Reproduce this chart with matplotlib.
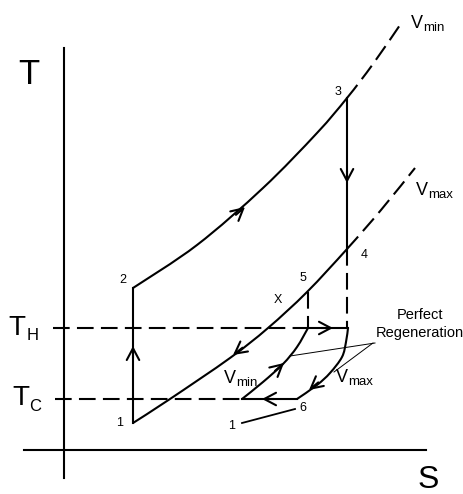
import matplotlib
matplotlib.use("Agg")
import matplotlib.pyplot as plt
from matplotlib.path import Path
from matplotlib.patches import PathPatch

plt.rcParams['font.family'] = ['Liberation Sans', 'DejaVu Sans']

# diagram frame (s to the right, t downwards as on the sheet)
axis_s = [64, 64]
axis_t = [48, 478]
base_s = [24, 426]
base_t = [450, 450]

# isochore V_min through 2 and 3; solid up to index 4, dashed after
vmin_s = [133, 197, 263, 317, 347, 373, 400]
vmin_t = [288, 245, 188, 133, 98, 64, 25]
vmin_cut = 4

# isochore V_max through 1, 5 and 4; solid up to index 5, dashed after
vmax_s = [133, 170, 230, 268, 307, 347, 381, 415]
vmax_t = [423, 399, 358, 328, 292, 249, 210, 168]
vmax_cut = 5

# compression 1-2 and expansion 3-4
comp_s = [133, 133]
comp_t = [423, 288]
exp_s = [347, 347]
exp_t = [98, 249]

# regenerator isochores
reg_min_s = [242, 263, 283, 297, 308]
reg_min_t = [399, 382, 364, 347, 328]
reg_max_s = [348, 346, 342, 330, 317, 297]
reg_max_t = [328, 342, 357, 373, 385, 399]

# reservoir temperatures
t_hot = 328
t_cold = 399
hot_dash = [53, 308]
hot_solid = [308, 348]
cold_dash = [55, 242]
cold_solid = [242, 297]

# drop lines from 4 and 5
drop4_s = [347, 347]
drop4_t = [249, 328]
drop5_s = [308, 308]
drop5_t = [292, 328]

# leader lines
lead16_s = [242, 295]
lead16_t = [423, 409]
lead_a_s = [375, 290]
lead_a_t = [343, 356]
lead_b_s = [373, 334]
lead_b_t = [343, 372]

# direction arrows: tip and heading
arrow_tip = [(245, 207), (347, 183), (133, 346), (233, 355), (333, 328),
             (309, 390), (262, 399), (284, 363)]
arrow_dir = [(43, -37), (0, 1), (0, -1), (-38, 29), (1, 0),
             (-33, 27), (-1, 0), (24, -21)]

# point labels
num_text = ['1', '2', '3', '4', '5', '6', '1', 'X']
num_s = [120, 123, 338, 364, 303, 303, 232, 278]
num_t = [423, 280, 92, 255, 278, 408, 426, 300]

fig = plt.figure(figsize=(4.64, 4.94), dpi=100)
ax = fig.add_axes([0, 0, 1, 1])
ax.set_xlim(0, 464)
ax.set_ylim(494, 0)
ax.axis('off')

lw = 1.5
dash = (0, (8, 3.5))
k = 'black'


def smooth(xs, ys, i0=0, i1=None, **kw):
    # bezier through the given points, drawn from point i0 to point i1
    pts = list(zip(xs, ys))
    n = len(pts)
    if i1 is None:
        i1 = n - 1
    verts = [pts[i0]]
    codes = [Path.MOVETO]
    for i in range(i0, i1):
        p0 = pts[max(i - 1, 0)]
        p1 = pts[i]
        p2 = pts[i + 1]
        p3 = pts[min(i + 2, n - 1)]
        c1 = (p1[0] + (p2[0] - p0[0]) / 6, p1[1] + (p2[1] - p0[1]) / 6)
        c2 = (p2[0] - (p3[0] - p1[0]) / 6, p2[1] - (p3[1] - p1[1]) / 6)
        verts += [c1, c2, p2]
        codes += [Path.CURVE4] * 3
    ax.add_patch(PathPatch(Path(verts, codes), fill=False, edgecolor=k,
                           lw=lw, capstyle='butt', **kw))


ax.plot(axis_s, axis_t, color=k, lw=lw)
ax.plot(base_s, base_t, color=k, lw=lw)

smooth(vmin_s, vmin_t, 0, vmin_cut)
smooth(vmin_s, vmin_t, vmin_cut, None, linestyle=dash)
smooth(vmax_s, vmax_t, 0, vmax_cut)
smooth(vmax_s, vmax_t, vmax_cut, None, linestyle=dash)
ax.plot(comp_s, comp_t, color=k, lw=lw)
ax.plot(exp_s, exp_t, color=k, lw=lw)
smooth(reg_min_s, reg_min_t)
smooth(reg_max_s, reg_max_t)

ax.plot(hot_dash, [t_hot, t_hot], color=k, lw=lw, ls=dash)
ax.plot(hot_solid, [t_hot, t_hot], color=k, lw=lw)
ax.plot(cold_dash, [t_cold, t_cold], color=k, lw=lw, ls=dash)
ax.plot(cold_solid, [t_cold, t_cold], color=k, lw=lw)
ax.plot(drop4_s, drop4_t, color=k, lw=lw, ls=dash)
ax.plot(drop5_s, drop5_t, color=k, lw=lw, ls=dash)

ax.plot(lead16_s, lead16_t, color=k, lw=1.3)
ax.plot(lead_a_s, lead_a_t, color=k, lw=0.7)
ax.plot(lead_b_s, lead_b_t, color=k, lw=0.7)

for (xs, ys), (dx, dy) in zip(arrow_tip, arrow_dir):
    n = (dx ** 2 + dy ** 2) ** 0.5
    ax.annotate('', xy=(xs, ys), xytext=(xs - 12 * dx / n, ys - 12 * dy / n),
                arrowprops=dict(arrowstyle='->,head_length=0.85,head_width=0.45',
                                color=k, lw=lw, shrinkA=0, shrinkB=0))

for s, xs, ys in zip(num_text, num_s, num_t):
    ax.text(xs, ys, s, fontsize=9, ha='center', va='center')

# axis names
ax.text(29, 75, 'T', fontsize=25, ha='center', va='center')
ax.text(428, 480, 'S', fontsize=23, ha='center', va='center')
ax.text(8, 335, 'T', fontsize=20, ha='left', va='baseline')
ax.text(27, 340, 'H', fontsize=12, ha='left', va='baseline')
ax.text(12, 405, 'T', fontsize=20, ha='left', va='baseline')
ax.text(29, 411, 'C', fontsize=12, ha='left', va='baseline')

# isochore names
v_lab = [(411, 28, 'min'), (416, 195, 'max'), (224, 383, 'min'), (336, 382, 'max')]
for xs, ys, sub in v_lab:
    ax.text(xs, ys, 'V', fontsize=13, ha='left', va='baseline')
    ax.text(xs + 12.5, ys + 3, sub, fontsize=9.5, ha='left', va='baseline')

ax.text(420, 315, 'Perfect', fontsize=10.5, ha='center', va='center')
ax.text(420, 333, 'Regeneration', fontsize=10.5, ha='center', va='center')

fig.savefig('out.png', dpi=100)
